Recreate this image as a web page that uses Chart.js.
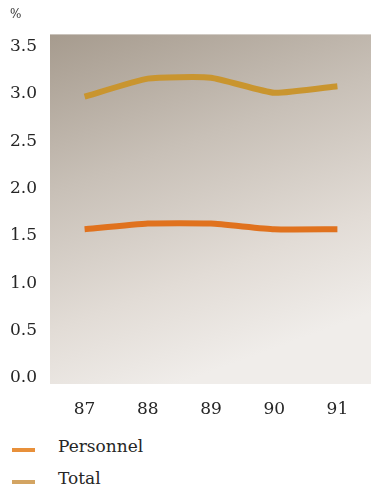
<!DOCTYPE html>
<html>
<head>
<meta charset="utf-8">
<script src="https://cdn.jsdelivr.net/npm/chart.js@4/dist/chart.umd.min.js"></script>
<style>
  html, body { margin: 0; padding: 0; background: #fff; width: 376px; height: 497px; overflow: hidden; position: relative; }
  #grafico { position: absolute; left: 0; top: 0; }
  .leyenda { position: absolute; left: 0; font-family: "DejaVu Serif", serif; font-size: 17px; color: #262626; }
  .leyenda .marca { position: absolute; left: 12px; width: 23px; height: 4px; }
  .leyenda span { position: absolute; left: 58px; white-space: nowrap; }
</style>
</head>
<body>
<canvas id="grafico" width="376" height="425"></canvas>
<div id="leyenda"></div>
<script>
// Datos del gráfico
const anios = ["87", "88", "89", "90", "91"];
const personnel = [1.57, 1.63, 1.63, 1.57, 1.57];
const total = [2.97, 3.16, 3.17, 3.01, 3.08];
const ticksY = [0, 0.5, 1.0, 1.5, 2.0, 2.5, 3.0, 3.5];

const series = [
    { label: "Personnel", data: personnel, color: "#e0721e", legend: "#e8903a" },
    { label: "Total", data: total, color: "#c9952f", legend: "#d3a462" }
];

const SERIF = "'DejaVu Serif', serif";

// fondo degradado del área del gráfico
const fondoPlugin = {
    id: "fondo",
    beforeDatasetsDraw(chart) {
        const { ctx, chartArea: a } = chart;
        const x0 = a.left - 3, y0 = a.top - 12, x1 = a.right + 2, y1 = a.bottom + 6;
        const g = ctx.createLinearGradient(x0, y0, x0 + (x1 - x0) * 0.4, y1);
        g.addColorStop(0, "#a69b8e");
        g.addColorStop(0.4, "#c8c0b7");
        g.addColorStop(0.75, "#e2dcd6");
        g.addColorStop(1, "#f0edea");
        ctx.save();
        ctx.fillStyle = g;
        ctx.fillRect(x0, y0, x1 - x0, y1 - y0);
        ctx.restore();
    }
};

new Chart(document.getElementById("grafico"), {
    type: "line",
    data: {
        labels: anios,
        datasets: series.map(s => ({
            label: s.label,
            data: s.data,
            borderColor: s.color,
            borderWidth: 6,
            pointRadius: 0,
            tension: 0.15,
            borderCapStyle: "butt",
            borderJoinStyle: "round"
        }))
    },
    options: {
        responsive: false,
        animation: false,
        layout: { padding: { left: 10, right: 7, top: 0, bottom: 6 } },
        plugins: {
            legend: { display: false },
            tooltip: { enabled: false },
            title: {
                display: true,
                text: "%",
                align: "start",
                color: "#333",
                font: { family: SERIF, size: 12, weight: "normal" },
                padding: { top: 8, bottom: 24 }
            }
        },
        scales: {
            x: {
                offset: true,
                grid: { display: false, drawTicks: false },
                border: { display: false },
                ticks: { color: "#262626", font: { family: SERIF, size: 17 }, padding: 21, maxRotation: 0 },
                afterFit: axis => { axis.height = 41; }
            },
            y: {
                min: 0,
                max: 3.5,
                afterBuildTicks: axis => { axis.ticks = ticksY.map(v => ({ value: v })); },
                grid: { display: false, drawTicks: false },
                border: { display: false },
                ticks: {
                    color: "#262626",
                    font: { family: SERIF, size: 17 },
                    padding: 16,
                    callback: v => Number(v).toFixed(1)
                },
                afterFit: axis => { axis.width = 43; }
            }
        }
    },
    plugins: [fondoPlugin]
});

// leyenda vertical en HTML
const leyenda = document.getElementById("leyenda");
series.forEach((s, i) => {
    const fila = document.createElement("div");
    fila.className = "leyenda";
    fila.style.top = (448 + i * 32) + "px";
    fila.innerHTML = `<div class="marca" style="background:${s.legend}; top:0"></div><span style="top:-12px">${s.label}</span>`;
    leyenda.appendChild(fila);
});
</script>
</body>
</html>
